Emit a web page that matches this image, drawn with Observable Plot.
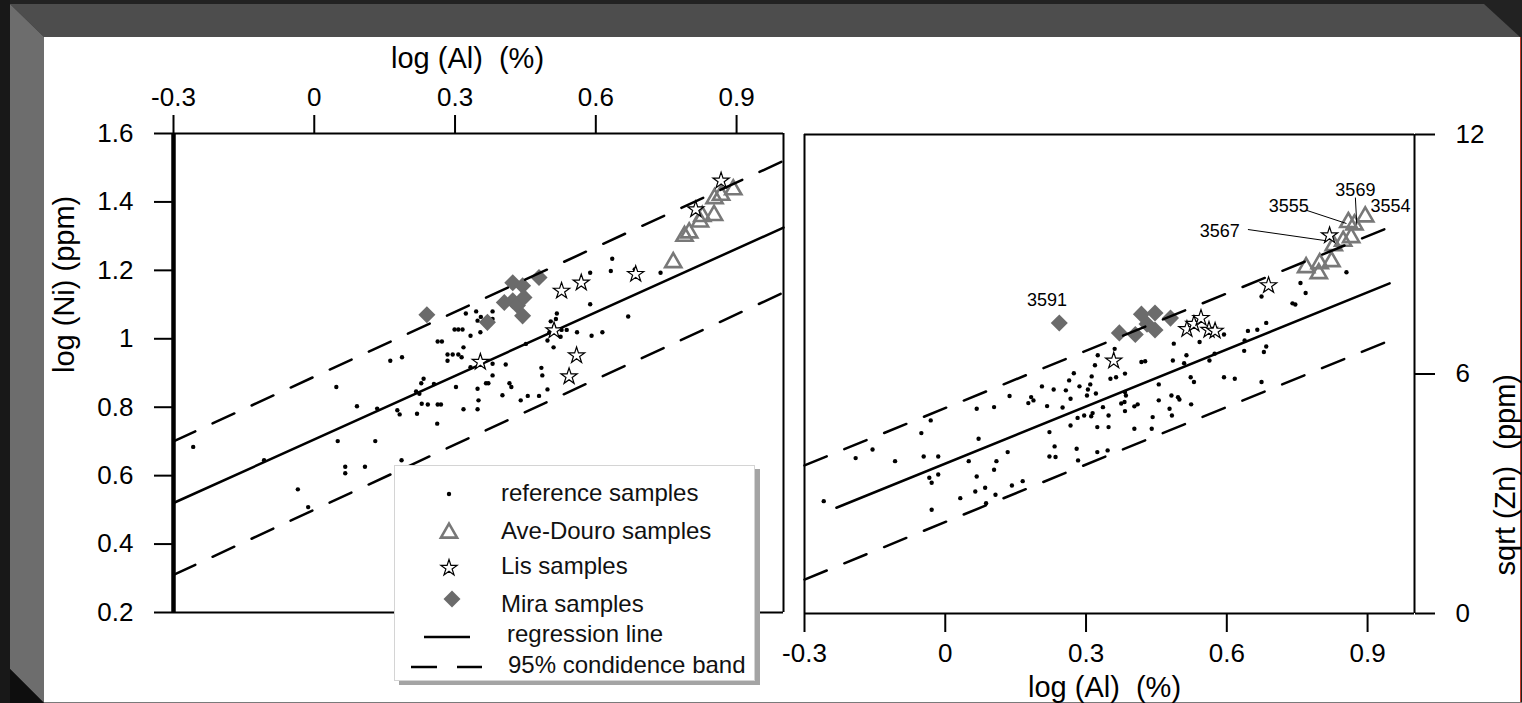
<!DOCTYPE html>
<html><head><meta charset="utf-8">
<script src="https://cdn.jsdelivr.net/npm/d3@7"></script>
<script src="https://cdn.jsdelivr.net/npm/@observablehq/plot@0.6"></script>
<style>
html,body{margin:0;padding:0;background:#222;}
#page{position:relative;width:1522px;height:703px;overflow:hidden;font-family:"Liberation Sans",Arial,sans-serif;}
.panel{position:absolute;}
.panel svg{overflow:visible;}
.panel svg text{white-space:pre;}
#legend{position:absolute;left:394px;top:465px;width:361px;height:216px;background:#fff;border:1px solid #d4d4d4;box-shadow:5px 4px 0 #a4a4a4;box-sizing:border-box;}
#legend svg text{font-family:"Liberation Sans",Arial,sans-serif;font-size:24px;fill:#111;white-space:pre;}
</style></head>
<body><div id="page">
<svg id="deco" width="1522" height="703" style="position:absolute;left:0;top:0">
  <rect x="0" y="0" width="1522" height="703" fill="#222"/>
  <rect x="0" y="0" width="10" height="703" fill="#181818"/>
  <polygon points="10,4 1484,4 1520,37 44,37" fill="#4d4d4d"/>
  <polygon points="10,4 44,37 44,703 10,669" fill="#6d6d6d"/>
  <polygon points="10,669 44,703 10,703" fill="#0e0e0e"/>
  <rect x="44" y="37" width="1476" height="665" fill="#fff"/>
  <line x1="1520.5" y1="37" x2="1520.5" y2="702" stroke="#c0392b" stroke-width="1"/>
  <line x1="44" y1="702.5" x2="1522" y2="702.5" stroke="#7a7a7a" stroke-width="1"/>
</svg>
<div id="left" class="panel" style="left:44px;top:37px"></div>
<div id="right" class="panel" style="left:800px;top:37px"></div>
<div id="legend"></div>
</div>
<script>
// ---------- ticks ----------
const xTicks = [-0.3, 0, 0.3, 0.6, 0.9];
const xTickLabels = ["-0.3", "0", "0.3", "0.6", "0.9"];
const niTicks = [0.2, 0.4, 0.6, 0.8, 1, 1.2, 1.4, 1.6];
const niTickLabels = ["0.2", "0.4", "0.6", "0.8", "1", "1.2", "1.4", "1.6"];
const znTicks = [0, 6, 12];
const znTickLabels = ["0", "6", "12"];

// ---------- left panel: log(Ni) vs log(Al) ----------
const niRef = [
 [0.635,1.234],[0.632,1.198],[0.588,1.193],[0.588,1.101],[0.669,1.065],[0.738,1.193],[0.683,1.203],
 [0.323,1.074],[0.345,1.080],[0.355,1.064],[0.380,1.080],[0.348,1.053],[0.380,1.058],
 [0.299,1.027],[0.307,1.027],[0.316,1.027],[0.333,1.009],[0.354,1.019],
 [0.263,0.992],[0.272,0.992],[0.318,0.975],[0.162,0.936],[0.187,0.946],
 [0.284,0.954],[0.295,0.954],[0.307,0.954],[0.314,0.946],[0.284,0.936],
 [0.333,0.917],[0.380,0.927],[0.408,0.925],[0.380,0.893],
 [0.233,0.883],[0.228,0.870],[0.255,0.868],[0.217,0.846],[0.224,0.839],[0.302,0.859],[0.366,0.870],[0.371,0.870],[0.348,0.854],[0.416,0.870],[0.420,0.859],
 [0.229,0.810],[0.242,0.808],[0.263,0.808],[0.270,0.808],[0.350,0.820],[0.401,0.835],[0.455,0.833],[0.479,0.833],[0.497,0.852],[0.484,0.915],[0.486,0.893],
 [0.177,0.791],[0.182,0.779],[0.219,0.781],[0.318,0.794],[0.348,0.794],[0.440,0.820],[0.262,0.752],
 [0.517,1.074],[0.515,1.058],[0.504,1.051],[0.511,1.035],[0.501,1.019],[0.527,1.026],[0.538,1.026],[0.560,1.019],[0.591,1.009],[0.614,1.019],[0.525,1.006],[0.497,0.995],[0.510,0.975],[0.451,0.985],
 [-0.258,0.684],[-0.107,0.645],[-0.035,0.560],[0.047,0.859],[0.091,0.803],[0.134,0.796],[0.050,0.701],[0.130,0.701],[0.066,0.626],[0.066,0.607],[0.108,0.626],[0.186,0.645],[-0.013,0.508]
];
const niAve = [[0.765,1.223],[0.789,1.300],[0.799,1.310],[0.822,1.342],[0.827,1.358],[0.852,1.361],[0.853,1.410],[0.867,1.420],[0.893,1.436]];
const niLis = [[0.354,0.932],[0.511,1.024],[0.527,1.140],[0.569,1.164],[0.559,0.951],[0.543,0.890],[0.685,1.189],[0.867,1.462],[0.813,1.378]];
const niMira = [[0.240,1.070],[0.369,1.048],[0.479,1.179],[0.423,1.164],[0.444,1.155],[0.405,1.106],[0.423,1.111],[0.433,1.097],[0.447,1.121],[0.444,1.067]];
const niRegLine = [[-0.3,0.52],[1.0,1.325]];
const niUpperBand = [[-0.3,0.70],[1.0,1.52]];
const niLowerBand = [[-0.3,0.31],[1.0,1.135]];

// ---------- right panel: sqrt(Zn) vs log(Al) ----------
const znRef = [
 [-0.259,2.815],[-0.191,3.893],[-0.155,4.110],[-0.107,3.817],[-0.051,4.519],[-0.046,3.935],[-0.031,4.837],[-0.015,3.935],[-0.034,3.400],[-0.029,3.275],[-0.015,3.483],[-0.029,2.598],[0.032,2.890],[0.050,3.817],[0.067,5.129],[0.071,4.377],[0.067,3.433],[0.064,3.057],[0.085,3.149],[0.104,5.171],[0.109,3.817],[0.104,3.600],[0.107,2.974],[0.087,2.765],
 [0.133,4.043],[0.137,5.447],[0.142,3.208],[0.165,3.316],[0.177,5.271],[0.183,5.421],[0.188,5.338],[0.206,5.689],[0.217,5.196],[0.222,4.544],[0.222,3.935],
 [0.231,5.61],[0.250,5.16],[0.257,5.59],[0.267,5.38],[0.264,5.84],[0.274,6.02],[0.286,5.69],[0.304,5.61],[0.302,5.46],[0.309,5.74],[0.312,5.94],[0.321,5.51],[0.325,6.47],[0.319,6.22],[0.267,4.71],[0.282,4.90],[0.296,4.96],[0.311,4.94],[0.314,5.02],[0.324,4.67],[0.336,5.17],[0.348,4.96],[0.348,4.67],[0.352,5.88],[0.364,5.92],[0.361,6.63],[0.383,6.01],[0.383,5.55],[0.385,5.46],[0.375,5.26],[0.382,5.30],[0.383,5.07],[0.403,5.19],[0.410,5.24],[0.403,4.63],[0.418,6.30],[0.426,6.32],[0.442,4.92],[0.440,4.63],[0.455,5.74],[0.455,5.34],[0.478,5.13],[0.482,5.46],[0.496,5.42],[0.499,5.36],[0.485,6.34],[0.487,6.76],[0.509,6.27],[0.514,6.47],[0.523,5.92],[0.530,5.80],[0.524,5.24],[0.483,4.96],[0.542,6.80],[0.563,6.34],[0.574,6.51],[0.594,5.92],[0.617,5.88],[0.594,6.99],[0.637,6.58],[0.645,7.08],
 [0.233,4.186],[0.235,3.919],[0.280,4.128],[0.283,3.835],[0.324,4.044],[0.346,4.086],[0.674,5.80],
 [0.674,7.94],[0.740,7.77],[0.746,7.74],[0.757,8.28],[0.768,8.03],[0.855,8.55],[0.684,7.28],[0.665,7.11],[0.684,6.69],[0.679,6.55],[0.638,6.84]
];
const znAve = [[0.769,8.67],[0.796,8.52],[0.798,8.77],[0.823,8.82],[0.828,9.22],[0.848,9.33],[0.865,9.42],[0.859,9.80],[0.872,9.74],[0.895,9.94]];
const znLis = [[0.359,6.33],[0.515,7.12],[0.530,7.25],[0.545,7.40],[0.562,7.10],[0.575,7.08],[0.689,8.22],[0.819,9.47]];
const znMira = [[0.243,7.28],[0.371,7.03],[0.405,6.99],[0.418,7.50],[0.447,7.53],[0.430,7.25],[0.447,7.10],[0.480,7.40]];
const znRegLine = [[-0.232,2.65],[0.947,8.27]];
const znUpperBand = [[-0.3,3.71],[0.968,9.78]];
const znLowerBand = [[-0.3,0.85],[0.968,6.94]];

// sample labels (right panel)
const sampleNames = ["3591", "3555", "3569", "3554", "3567"];
const sampleLabelX = [0.217, 0.732, 0.874, 0.949, 0.585];
const sampleLabelY = [7.85, 10.20, 10.60, 10.20, 9.57];
const leaderFrom = [[0.770,10.10],[0.874,10.42],[0.645,9.62]];
const leaderTo = [[0.855,9.77],[0.877,9.74],[0.811,9.34]];

// ---------- legend ----------
const legendItems = ["reference samples", "Ave-Douro samples", "Lis samples", "Mira samples", "regression line", "95% condidence band"];

const FONT = "Liberation Sans, Arial, sans-serif";
const X = d => d[0], Y = d => d[1];
const fmtFrom = (ticks, labels) => d => labels[ticks.indexOf(d)];
const GRAY_T = "#787878", GRAY_D = "#6b6b6b";
const DASH = "24,19";
const DOT_R = 2.2, STAR_R = 5.1;

const left = Plot.plot({
  width: 756, height: 665,
  marginLeft: 129, marginRight: 17, marginTop: 96, marginBottom: 90,
  x: {domain: [-0.3, 1.0]},
  y: {domain: [0.2, 1.6]},
  style: {fontFamily: FONT, background: "transparent", color: "#000"},
  marks: [
    Plot.ruleY([1.6], {strokeWidth: 2}),
    Plot.ruleY([0.2], {strokeWidth: 2}),
    Plot.ruleX([1.0], {strokeWidth: 2}),
    Plot.ruleX([-0.3], {strokeWidth: 4.5}),
    Plot.axisX(xTicks, {anchor: "top", tickSize: 19, tickPadding: 9, fontSize: 26, strokeWidth: 2, tickFormat: fmtFrom(xTicks, xTickLabels), label: null}),
    Plot.axisY(niTicks, {anchor: "left", tickSize: 19, tickPadding: 21, fontSize: 26, strokeWidth: 2, tickFormat: fmtFrom(niTicks, niTickLabels), label: null}),
    Plot.dot(niRef, {x: X, y: Y, r: DOT_R, fill: "#000"}),
    Plot.dot(niMira, {x: X, y: Y, symbol: "square", rotate: 45, r: 6.8, fill: GRAY_D}),
    Plot.dot(niAve, {x: X, y: Y, symbol: "triangle", r: 6, fill: "none", stroke: GRAY_T, strokeWidth: 2.6}),
    Plot.line(niRegLine, {x: X, y: Y, strokeWidth: 2.5}),
    Plot.line(niUpperBand, {x: X, y: Y, strokeWidth: 2.5, strokeDasharray: DASH}),
    Plot.line(niLowerBand, {x: X, y: Y, strokeWidth: 2.5, strokeDasharray: DASH}),
    Plot.dot(niLis, {x: X, y: Y, symbol: "star", r: STAR_R, fill: "#fff", stroke: "#000", strokeWidth: 1.2}),
    Plot.text(["log (Al)  (%)"], {frameAnchor: "top", dy: -75, dx: -11, lineAnchor: "middle", fontSize: 29}),
    Plot.text(["log (Ni) (ppm)"], {frameAnchor: "left", dx: -109, rotate: -90, lineAnchor: "middle", fontSize: 29})
  ]
});
document.getElementById("left").appendChild(left);

const right = Plot.plot({
  width: 720, height: 665,
  marginLeft: 4, marginRight: 106, marginTop: 97, marginBottom: 89,
  x: {domain: [-0.3, 1.0]},
  y: {domain: [0, 12]},
  style: {fontFamily: FONT, background: "transparent", color: "#000"},
  marks: [
    Plot.ruleY([12], {strokeWidth: 2}),
    Plot.ruleY([0], {strokeWidth: 2}),
    Plot.ruleX([-0.3], {strokeWidth: 2}),
    Plot.ruleX([1.0], {strokeWidth: 2}),
    Plot.axisX(xTicks, {anchor: "bottom", tickSize: 19, tickPadding: 11, fontSize: 26, strokeWidth: 2, tickFormat: fmtFrom(xTicks, xTickLabels), label: null}),
    Plot.axisY(znTicks, {anchor: "right", tickSize: 20, tickPadding: 21, fontSize: 26, strokeWidth: 2, tickFormat: fmtFrom(znTicks, znTickLabels), label: null}),
    Plot.dot(znRef, {x: X, y: Y, r: DOT_R, fill: "#000"}),
    Plot.dot(znMira, {x: X, y: Y, symbol: "square", rotate: 45, r: 6.8, fill: GRAY_D}),
    Plot.dot(znAve, {x: X, y: Y, symbol: "triangle", r: 6, fill: "none", stroke: GRAY_T, strokeWidth: 2.6}),
    Plot.line(znRegLine, {x: X, y: Y, strokeWidth: 2.5}),
    Plot.line(znUpperBand, {x: X, y: Y, strokeWidth: 2.5, strokeDasharray: DASH}),
    Plot.line(znLowerBand, {x: X, y: Y, strokeWidth: 2.5, strokeDasharray: DASH}),
    Plot.dot(znLis, {x: X, y: Y, symbol: "star", r: STAR_R, fill: "#fff", stroke: "#000", strokeWidth: 1.2}),
    Plot.link(leaderFrom.map((d, i) => i), {x1: i => leaderFrom[i][0], y1: i => leaderFrom[i][1], x2: i => leaderTo[i][0], y2: i => leaderTo[i][1], stroke: "#000", strokeWidth: 1}),
    Plot.text(sampleNames, {x: sampleLabelX, y: sampleLabelY, text: d => d, fontSize: 18, lineAnchor: "middle"}),
    Plot.text(["log (Al)  (%)"], {frameAnchor: "bottom", dy: 74, dx: -5, lineAnchor: "middle", fontSize: 29}),
    Plot.text(["sqrt (Zn)  (ppm)"], {frameAnchor: "right", dx: 91, rotate: -90, lineAnchor: "middle", fontSize: 29})
  ]
});
document.getElementById("right").appendChild(right);

// ---------- legend (drawn as a small svg) ----------
(function () {
  const svg = d3.select("#legend").append("svg").attr("width", 361).attr("height", 216);
  const sym = (type, r) => d3.symbol(type, r * r * Math.PI)();
  svg.append("circle").attr("cx", 54).attr("cy", 28).attr("r", DOT_R).attr("fill", "#000");
  svg.append("path").attr("d", sym(d3.symbolTriangle, 6)).attr("transform", "translate(54,67)")
     .attr("fill", "none").attr("stroke", GRAY_T).attr("stroke-width", 2.6);
  svg.append("path").attr("d", sym(d3.symbolStar, STAR_R)).attr("transform", "translate(54,102)")
     .attr("fill", "#fff").attr("stroke", "#000").attr("stroke-width", 1.2);
  svg.append("path").attr("d", sym(d3.symbolSquare, 6.8)).attr("transform", "translate(57,133) rotate(45)")
     .attr("fill", GRAY_D);
  svg.append("line").attr("x1", 29).attr("x2", 75).attr("y1", 171).attr("y2", 171).attr("stroke", "#000").attr("stroke-width", 2.5);
  svg.append("line").attr("x1", 16).attr("x2", 87).attr("y1", 201).attr("y2", 201).attr("stroke", "#000").attr("stroke-width", 2.5).attr("stroke-dasharray", "26,20");
  const ty = [27, 65, 100, 138, 168, 199];
  const tx = [106, 106, 106, 106, 112, 113];
  legendItems.forEach((t, i) => {
    svg.append("text").attr("x", tx[i]).attr("y", ty[i]).attr("dy", "0.35em").text(t);
  });
})();
</script>
</body></html>
